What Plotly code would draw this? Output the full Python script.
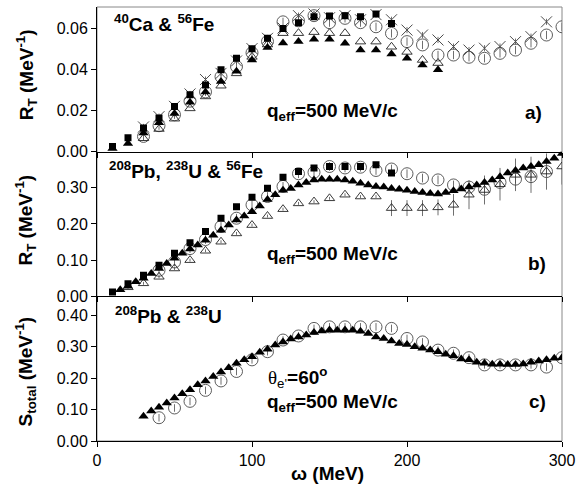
import plotly.graph_objects as go

# ---------------- panel a) 40Ca & 56Fe ----------------
omega_a_sq = [10, 20, 30, 40, 50, 60, 70, 80, 90, 100, 110, 120, 130, 140, 150, 160, 170, 180, 190]
Ra_sq = [0.0025, 0.0068, 0.0115, 0.0163, 0.0219, 0.0276, 0.0324, 0.0397, 0.0453, 0.0500, 0.0550,
         0.0598, 0.0626, 0.0655, 0.0658, 0.0660, 0.0655, 0.0668, 0.0622]

omega_a_circ = [30, 40, 50, 60, 70, 80, 90, 100, 110, 120, 130, 140, 150, 160, 170, 180, 190, 200,
                210, 220, 230, 240, 250, 260, 270, 280, 290, 300]
Ra_circ = [0.0074, 0.0126, 0.0179, 0.0245, 0.0290, 0.0364, 0.0413, 0.0480, 0.0535, 0.0630, 0.0635,
           0.0660, 0.0626, 0.0647, 0.0626, 0.0606, 0.0574, 0.0534, 0.0518, 0.0469, 0.0469, 0.0458,
           0.0453, 0.0477, 0.0493, 0.0526, 0.0566, 0.0606]

omega_a_x = [30, 40, 50, 60, 70, 80, 90, 100, 110, 120, 130, 140, 150, 160, 170, 180, 190, 200,
             210, 220, 230, 240, 250, 260, 270, 280, 290]
Ra_x = [0.0120, 0.0170, 0.0220, 0.0280, 0.0350, 0.0380, 0.0440, 0.0500, 0.0550, 0.0600, 0.0660,
        0.0668, 0.0650, 0.0660, 0.0640, 0.0665, 0.0640, 0.0590, 0.0566, 0.0542, 0.0510, 0.0493,
        0.0502, 0.0510, 0.0534, 0.0558, 0.0630]

omega_a_otri = [30, 40, 50, 60, 70, 80, 90, 100, 110, 120, 130, 140, 150, 160, 170, 180, 190, 200, 210, 220]
Ra_otri = [0.0065, 0.0110, 0.0160, 0.0210, 0.0268, 0.0320, 0.0380, 0.0460, 0.0520, 0.0575, 0.0575,
           0.0580, 0.0575, 0.0575, 0.0534, 0.0534, 0.0509, 0.0484, 0.0445, 0.0430]

omega_a_ftri = [10, 20, 30, 40, 50, 60, 70, 80, 90, 100, 110, 120, 130, 140, 150, 160, 170, 180,
                190, 200, 210, 220]
Ra_ftri = [0.0015, 0.0040, 0.0090, 0.0140, 0.0185, 0.0240, 0.0290, 0.0340, 0.0390, 0.0445, 0.0505,
           0.0527, 0.0534, 0.0545, 0.0545, 0.0526, 0.0493, 0.0493, 0.0474, 0.0453, 0.0421, 0.0397]

# ---------------- panel b) 208Pb, 238U & 56Fe ----------------
omega_b_sq = [10, 20, 30, 40, 50, 60, 70, 80, 90, 100, 110, 120, 130, 140, 150, 160, 170, 180, 190]
Rb_sq = [0.012, 0.035, 0.058, 0.086, 0.119, 0.148, 0.179, 0.216, 0.248, 0.274, 0.299, 0.329, 0.345,
         0.355, 0.359, 0.359, 0.359, 0.364, 0.341]

omega_b_circ = [40, 50, 60, 70, 80, 90, 100, 110, 120, 130, 140, 150, 160, 170, 180, 190, 200, 210,
                220, 230, 240, 250, 260, 270, 280, 290]
Rb_circ = [0.072, 0.095, 0.132, 0.157, 0.193, 0.216, 0.253, 0.276, 0.304, 0.339, 0.343, 0.359, 0.355,
           0.357, 0.348, 0.352, 0.339, 0.327, 0.322, 0.308, 0.302, 0.296, 0.315, 0.324, 0.331, 0.345]

omega_b_otri = [20, 30, 40, 50, 60, 70, 80, 90, 100, 110, 120, 130, 140, 150, 160, 170, 180, 190,
                200, 210, 220, 230, 240, 250, 260, 270, 280, 290, 300]
Rb_otri = [0.025, 0.036, 0.054, 0.077, 0.100, 0.126, 0.151, 0.174, 0.197, 0.222, 0.241, 0.257, 0.262,
           0.271, 0.281, 0.276, 0.276, 0.244, 0.244, 0.244, 0.246, 0.253, 0.281, 0.294, 0.310, 0.336,
           0.336, 0.345, 0.359]
Rb_otri_err = [0.004, 0.004, 0.004, 0.004, 0.004, 0.004, 0.004, 0.004, 0.004, 0.004, 0.004, 0.004,
               0.004, 0.004, 0.004, 0.004, 0.004, 0.022, 0.022, 0.022, 0.022, 0.030, 0.040, 0.040,
               0.045, 0.045, 0.050, 0.050, 0.050]

omega_b_ftri = [15, 20, 25, 30, 35, 40, 45, 50, 55, 60, 65, 70, 75, 80, 85, 90, 95, 100, 105, 110,
                115, 120, 125, 130, 135, 140, 145, 150, 155, 160, 165, 170, 175, 180, 185, 190, 195,
                200, 205, 210, 215, 220, 225, 230, 235, 240, 245, 250, 255, 260, 265, 270, 275, 280,
                285, 290, 295, 300]
Rb_ftri = [0.0185, 0.028, 0.040, 0.050, 0.063, 0.077, 0.091, 0.105, 0.119, 0.131, 0.142, 0.155,
           0.169, 0.183, 0.197, 0.211, 0.222, 0.234, 0.250, 0.268, 0.281, 0.293, 0.298, 0.308, 0.315,
           0.322, 0.324, 0.324, 0.324, 0.322, 0.318, 0.313, 0.308, 0.304, 0.302, 0.298, 0.296, 0.293,
           0.290, 0.287, 0.284, 0.283, 0.287, 0.292, 0.297, 0.302, 0.308, 0.315, 0.322, 0.331, 0.341,
           0.348, 0.355, 0.359, 0.364, 0.373, 0.382, 0.395]

# ---------------- panel c) 208Pb & 238U ----------------
omega_c_ftri = [30, 35, 40, 45, 50, 55, 60, 65, 70, 75, 80, 85, 90, 95, 100, 105, 110, 115, 120,
                125, 130, 135, 140, 145, 150, 155, 160, 165, 170, 175, 180, 185, 190, 195, 200, 205,
                210, 215, 220, 225, 230, 235, 240, 245, 250, 255, 260, 265, 270, 275, 280, 285, 290,
                295, 300]
Sc_ftri = [0.079, 0.095, 0.107, 0.121, 0.137, 0.150, 0.163, 0.179, 0.191, 0.205, 0.219, 0.233, 0.247,
           0.258, 0.268, 0.282, 0.292, 0.305, 0.315, 0.324, 0.331, 0.337, 0.345, 0.350, 0.353, 0.352,
           0.353, 0.352, 0.349, 0.342, 0.331, 0.326, 0.318, 0.310, 0.307, 0.300, 0.295, 0.289, 0.284,
           0.276, 0.271, 0.261, 0.258, 0.250, 0.247, 0.244, 0.244, 0.243, 0.243, 0.245, 0.250, 0.254,
           0.258, 0.263, 0.265]

omega_c_circ = [40, 50, 60, 70, 80, 90, 100, 110, 120, 130, 140, 150, 160, 170, 180, 190, 200, 210,
                220, 230, 240, 250, 260, 270, 280, 290, 300]
Sc_circ = [0.074, 0.105, 0.126, 0.161, 0.191, 0.221, 0.258, 0.284, 0.321, 0.334, 0.358, 0.363, 0.363,
           0.363, 0.363, 0.358, 0.326, 0.315, 0.289, 0.279, 0.265, 0.242, 0.242, 0.242, 0.242, 0.235,
           0.265]

x_ticks = [0, 100, 200, 300]
ya_ticks = [0.00, 0.02, 0.04, 0.06]
yb_ticks = [0.00, 0.10, 0.20, 0.30]
yc_ticks = [0.00, 0.10, 0.20, 0.30, 0.40]

FONT = "Liberation Sans, Arial, Helvetica, sans-serif"
GRAY = "#4a4a4a"

fig = go.Figure()


def circ(x, y, xa, ya, err=0.0):
    return go.Scatter(x=x, y=y, xaxis=xa, yaxis=ya, mode="markers",
                      marker=dict(symbol="circle-open", size=12, color=GRAY, line=dict(width=0.9, color=GRAY)),
                      error_y=dict(type="constant", value=err, color=GRAY, thickness=0.8, width=0, visible=err > 0),
                      showlegend=False)


def otri(x, y, xa, ya, err=None):
    ey = dict(type="data", array=err, color=GRAY, thickness=0.8, width=0, visible=True) if err else dict(visible=False)
    return go.Scatter(x=x, y=y, xaxis=xa, yaxis=ya, mode="markers",
                      marker=dict(symbol="triangle-up-open", size=9, color="#222", line=dict(width=0.9, color="#222")),
                      error_y=ey, showlegend=False)


def ftri(x, y, xa, ya):
    return go.Scatter(x=x, y=y, xaxis=xa, yaxis=ya, mode="markers",
                      marker=dict(symbol="triangle-up", size=9, color="black", line=dict(width=0)),
                      showlegend=False)


def sq(x, y, xa, ya):
    return go.Scatter(x=x, y=y, xaxis=xa, yaxis=ya, mode="markers",
                      marker=dict(symbol="square", size=7, color="black", line=dict(width=0)),
                      showlegend=False)


def xm(x, y, xa, ya):
    return go.Scatter(x=x, y=y, xaxis=xa, yaxis=ya, mode="markers",
                      marker=dict(symbol="x-thin", size=11, color=GRAY, line=dict(width=1, color=GRAY)),
                      error_y=dict(type="constant", value=0.0015, color=GRAY, thickness=0.8, width=0),
                      showlegend=False)


# panel a (top)
fig.add_trace(circ(omega_a_circ, Ra_circ, "x", "y", 0.002))
fig.add_trace(xm(omega_a_x, Ra_x, "x", "y"))
fig.add_trace(otri(omega_a_otri, Ra_otri, "x", "y"))
fig.add_trace(ftri(omega_a_ftri, Ra_ftri, "x", "y"))
fig.add_trace(sq(omega_a_sq, Ra_sq, "x", "y"))

# panel b (middle)
fig.add_trace(circ(omega_b_circ, Rb_circ, "x2", "y2", 0.012))
fig.add_trace(otri(omega_b_otri, Rb_otri, "x2", "y2", Rb_otri_err))
fig.add_trace(ftri(omega_b_ftri, Rb_ftri, "x2", "y2"))
fig.add_trace(sq(omega_b_sq, Rb_sq, "x2", "y2"))

# panel c (bottom)
fig.add_trace(circ(omega_c_circ, Sc_circ, "x3", "y3", 0.012))
fig.add_trace(ftri(omega_c_ftri, Sc_ftri, "x3", "y3"))

xcommon = dict(range=[0, 300], tickvals=x_ticks, ticks="outside", ticklen=5, tickcolor="black",
               showline=True, linecolor="black", linewidth=1, showgrid=False, zeroline=False)
ycommon = dict(ticks="outside", ticklen=5, tickcolor="black", showline=True, linecolor="black",
               linewidth=1, showgrid=False, zeroline=False, tickformat=".2f",
               tickfont=dict(size=16, family=FONT, color="black"))

fig.update_layout(
    width=582, height=489,
    margin=dict(l=97, r=14, t=7, b=48),
    paper_bgcolor="white", plot_bgcolor="white",
    font=dict(family=FONT, color="black", size=16),
    xaxis=dict(**xcommon, domain=[0, 1], anchor="y", showticklabels=False),
    xaxis2=dict(**xcommon, domain=[0, 1], anchor="y2", showticklabels=False),
    xaxis3=dict(**xcommon, domain=[0, 1], anchor="y3", showticklabels=True,
                tickfont=dict(size=16, family=FONT, color="black")),
    yaxis=dict(**ycommon, domain=[2 / 3, 1], range=[0, 0.0702], tickvals=ya_ticks, anchor="x"),
    yaxis2=dict(**ycommon, domain=[1 / 3, 2 / 3], range=[0, 0.40], tickvals=yb_ticks, anchor="x2"),
    yaxis3=dict(**ycommon, domain=[0, 1 / 3], range=[0, 0.46], tickvals=yc_ticks, anchor="x3"),
    showlegend=False,
)

# gray frame (top/right edges)
fig.add_shape(type="rect", xref="paper", yref="paper", x0=0, y0=0, x1=1, y1=1,
              line=dict(color="#888", width=1), layer="below")

B = dict(family=FONT, size=19, color="black")


def ann(text, x, y, xanchor="left", yanchor="middle", angle=0, font=B):
    fig.add_annotation(text=text, x=x, y=y, xref="paper", yref="paper", xanchor=xanchor,
                       yanchor=yanchor, showarrow=False, textangle=angle, font=font)


# axis titles
ann("<b>R<sub>T</sub> (MeV<sup>-1</sup>)</b>", -0.153, 0.845, "center", "middle", -90)
ann("<b>R<sub>T</sub> (MeV<sup>-1</sup>)</b>", -0.153, 0.51, "center", "middle", -90)
ann("<b>S<sub>total</sub> (MeV<sup>-1</sup>)</b>", -0.153, 0.16, "center", "middle", -90)
ann("<b>ω (MeV)</b>", 0.495, -0.075, "center", "middle")

# panel texts
ann("<b><sup>40</sup>Ca & <sup>56</sup>Fe</b>", 0.032, 0.963)
ann("<b>q<sub>eff</sub>=500 MeV/c</b>", 0.361, 0.758)
ann("<b>a)</b>", 0.962, 0.758, "right")

ann("<b><sup>208</sup>Pb, <sup>238</sup>U & <sup>56</sup>Fe</b>", 0.021, 0.625)
ann("<b>q<sub>eff</sub>=500 MeV/c</b>", 0.361, 0.428)
ann("<b>b)</b>", 0.97, 0.41, "right")

ann("<b><sup>208</sup>Pb & <sup>238</sup>U</b>", 0.034, 0.29)
ann("<span style='font-family:Liberation Serif, DejaVu Serif, serif'>θ</span><sub>e'</sub><b>=60<sup>o</sup></b>",
    0.364, 0.146)
ann("<b>q<sub>eff</sub>=500 MeV/c</b>", 0.361, 0.088)
ann("<b>c)</b>", 0.97, 0.09, "right")

# remove the default page margin so the 582x489 figure fills the window exactly
fig.write_html("out.html", config={"displayModeBar": False},
               post_script="document.body.style.margin='0px';document.body.style.overflow='hidden';")
